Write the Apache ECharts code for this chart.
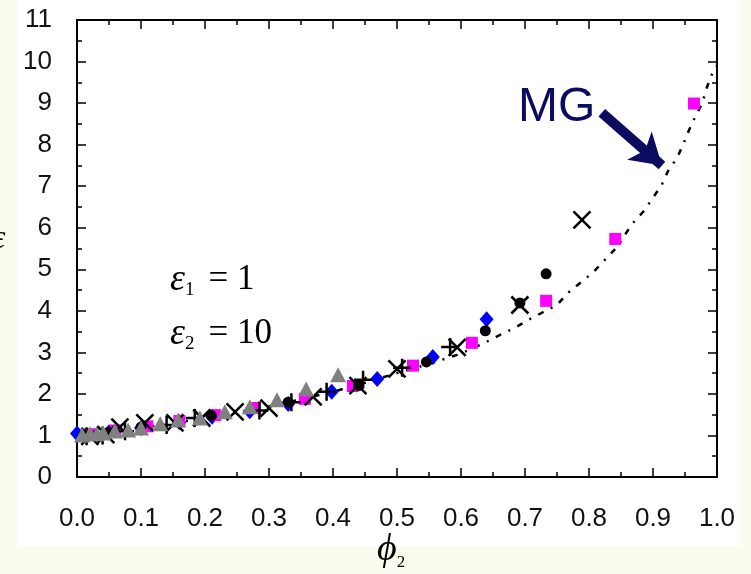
<!DOCTYPE html>
<html><head><meta charset="utf-8">
<script src="https://cdn.jsdelivr.net/npm/echarts@6/dist/echarts.min.js"></script>
<style>html,body{margin:0;padding:0;background:#FBFBEF}#c{width:751px;height:574px}</style>
</head><body><div id="c"></div>
<script>
// ---- tick labels ----
const xTickLabels = ['0.0','0.1','0.2','0.3','0.4','0.5','0.6','0.7','0.8','0.9','1.0'];
const yTickLabels = ['0','1','2','3','4','5','6','7','8','9','10','11'];

// ---- data series (phi2, epsilon) ----
const circlePhi = [0.01,0.05,0.10,0.21,0.33,0.44,0.546,0.638,0.692,0.733];
const circleEps = [1.00,1.08,1.20,1.48,1.80,2.20,2.77,3.52,4.19,4.89];

const crossPhi = [0.02,0.045,0.067,0.106,0.153,0.195,0.247,0.30,0.369,0.439,0.50,0.594,0.692,0.789];
const crossEps = [0.98,1.02,1.20,1.30,1.30,1.42,1.57,1.66,1.93,2.20,2.60,3.12,4.14,6.19];

const plusPhi = [0.015,0.04,0.075,0.14,0.184,0.285,0.335,0.39,0.447,0.508,0.583];
const plusEps = [0.98,1.00,1.10,1.25,1.42,1.60,1.80,2.05,2.34,2.63,3.13];

const squarePhi = [0.02,0.06,0.11,0.16,0.216,0.278,0.356,0.431,0.525,0.617,0.733,0.841,0.964];
const squareEps = [1.03,1.12,1.22,1.35,1.49,1.66,1.88,2.19,2.68,3.23,4.24,5.73,8.99];

const diamondPhi = [0.0,0.05,0.10,0.16,0.211,0.27,0.33,0.398,0.469,0.556,0.64];
const diamondEps = [1.05,1.08,1.18,1.32,1.45,1.58,1.76,2.05,2.36,2.89,3.80];

const trianglePhi = [0.008,0.02,0.031,0.041,0.059,0.08,0.10,0.13,0.158,0.192,0.231,0.27,0.3125,0.358,0.408];
const triangleEps = [1.01,1.04,1.04,1.06,1.11,1.13,1.18,1.28,1.37,1.42,1.57,1.69,1.86,2.12,2.46];

// MG (Maxwell Garnett) curve
const mgPhi = [0,0.05,0.10,0.15,0.20,0.25,0.30,0.35,0.40,0.45,0.50,0.55,0.57,0.594,0.619,0.637,0.661,0.684,0.705,0.75,0.767,0.806,0.822,0.844,0.853,0.869,0.885,0.90,0.914,0.923,0.938,0.947,0.956,0.966,0.977,0.984,0.992,1.0];
const mgEps = [1.0,1.08,1.18,1.30,1.42,1.55,1.70,1.87,2.05,2.27,2.50,2.72,2.82,2.94,3.10,3.23,3.42,3.59,3.78,4.14,4.43,4.92,5.18,5.54,5.76,6.12,6.39,6.72,7.04,7.35,7.69,8.00,8.34,8.67,9.00,9.37,9.69,9.90];

// MG arrow annotation (data coords: start, end)
const arrowStart = [0.82, 8.77];
const arrowEnd = [0.914, 7.50];

const zip = (a, b) => a.map((v, i) => [v, b[i]]);

const chart = echarts.init(document.getElementById('c'), null, {renderer: 'canvas'});

const axisCommon = {
  type: 'value',
  axisLine: {show: true, onZero: false, lineStyle: {color: '#000', width: 2}},
  axisTick: {show: true, inside: true, length: 9, lineStyle: {color: '#000', width: 1.5}},
  minorTick: {show: true, splitNumber: 2, length: 5, lineStyle: {color: '#000', width: 1.5}},
  splitLine: {show: false},
  minorSplitLine: {show: false}
};
const labelStyle = {fontFamily: 'Liberation Sans', fontSize: 26, color: '#111'};

const xAxisBase = Object.assign({}, axisCommon, {min: 0, max: 1, interval: 0.1});
const yAxisBase = Object.assign({}, axisCommon, {min: 0, max: 11, interval: 1});

const X_PATH = 'path://M0,0L10,10M10,0L0,10';
const PLUS_PATH = 'path://M5,0L5,10M0,5L10,5';

const eqRich = {
  e: {font: 'italic 38px "Liberation Serif"', fill: '#000'},
  s: {font: '19px "Liberation Serif"', fill: '#000', padding: [20, 0, 0, 0]},
  t: {font: '35px "Liberation Serif"', fill: '#000', padding: [0, 0, 0, 14]}
};

chart.setOption({
  backgroundColor: '#FBFBEF',
  animation: false,
  grid: {left: 77, right: 34, top: 20, bottom: 97, containLabel: false},
  xAxis: [
    Object.assign({}, xAxisBase, {position: 'bottom',
      axisLabel: Object.assign({show: true, margin: 29,
        formatter: v => xTickLabels[Math.round(v * 10)]}, labelStyle)}),
    Object.assign({}, xAxisBase, {position: 'top', axisLabel: {show: false}})
  ],
  yAxis: [
    Object.assign({}, yAxisBase, {position: 'left',
      axisLabel: Object.assign({show: true, margin: 25,
        formatter: v => yTickLabels[Math.round(v)]}, labelStyle)}),
    Object.assign({}, yAxisBase, {position: 'right', axisLabel: {show: false}})
  ],
  graphic: [
    {type: 'rect', z: -100, silent: true, shape: {x: 18, y: 0, width: 722, height: 546}, style: {fill: '#FFFFFF'}},
    {type: 'text', left: -8, top: 222, silent: true, style: {text: 'ε', font: 'italic 34px "Liberation Serif"', fill: '#000'}},
    {type: 'text', left: 377, top: 531, silent: true, style: {
      text: '{a|ϕ}{b|2}',
      rich: {a: {font: 'italic 38px "Liberation Serif"', fill: '#000'},
             b: {font: '17px "Liberation Serif"', fill: '#000', padding: [26, 0, 0, 0]}}}},
    {type: 'text', left: 170, top: 261, silent: true, style: {text: '{e|ε}{s|1}{t|= 1}', rich: eqRich}},
    {type: 'text', left: 170, top: 315, silent: true, style: {text: '{e|ε}{s|2}{t|= 10}', rich: eqRich}},
    {type: 'text', left: 518, top: 84, silent: true, style: {text: 'MG', font: '48px "Liberation Sans"', fill: '#0B0B60'}}
  ],
  series: [
    {
      name: 'MG', type: 'line', xAxisIndex: 0, yAxisIndex: 0, data: zip(mgPhi, mgEps),
      showSymbol: false, symbol: 'none', smooth: false, z: 1,
      lineStyle: {color: '#000', width: 2.5, type: [6, 8, 2, 8]},
      markLine: {
        silent: true, animation: false, label: {show: false},
        lineStyle: {color: '#0B0B60', width: 10, type: 'solid', opacity: 1},
        emphasis: {disabled: true},
        data: [[{coord: arrowStart, symbol: 'none'}, {coord: arrowEnd, symbol: 'arrow', symbolSize: [28, 30]}]]
      }
    },
    {name: 'diamond', type: 'scatter', data: zip(diamondPhi, diamondEps), symbol: 'diamond', symbolSize: [14, 16], itemStyle: {color: '#0000FF', opacity: 1}, z: 3},
    {name: 'square', type: 'scatter', data: zip(squarePhi, squareEps), symbol: 'rect', symbolSize: 12, itemStyle: {color: '#FF00FF', opacity: 1}, z: 4},
    {name: 'circle', type: 'scatter', data: zip(circlePhi, circleEps), symbol: 'circle', symbolSize: 11, itemStyle: {color: '#000', opacity: 1}, z: 5},
    {name: 'plus', type: 'scatter', data: zip(plusPhi, plusEps), symbol: PLUS_PATH, symbolSize: 18, itemStyle: {color: 'rgba(0,0,0,0)', borderColor: '#000', borderWidth: 2.5, opacity: 1}, z: 6},
    {name: 'cross', type: 'scatter', data: zip(crossPhi, crossEps), symbol: X_PATH, symbolSize: 17, itemStyle: {color: 'rgba(0,0,0,0)', borderColor: '#000', borderWidth: 2.5, opacity: 1}, z: 7},
    {name: 'triangle', type: 'scatter', data: zip(trianglePhi, triangleEps), symbol: 'triangle', symbolSize: [16, 15], itemStyle: {color: '#808080', opacity: 1}, z: 8}
  ]
});
</script>
</body></html>
